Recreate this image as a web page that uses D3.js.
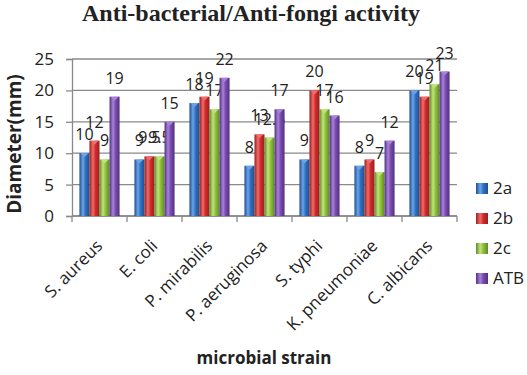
<!DOCTYPE html>
<html>
<head>
<meta charset="utf-8">
<script src="https://cdn.jsdelivr.net/npm/d3@7"></script>
<style>
  body { margin: 0; background: #fff; }
  svg text { font-family: "Open Sans", "Noto Sans", sans-serif; fill: #222; }
</style>
</head>
<body>
<div id="chart"></div>
<script>
// chart data
const strains = ["S. aureus", "E. coli", "P. mirabilis", "P. aeruginosa", "S. typhi", "K. pneumoniae", "C. albicans"];
const seriesNames = ["2a", "2b", "2c", "ATB"];
const val2a  = [10, 9, 18, 8, 9, 8, 20];
const val2b  = [12, 9.5, 19, 13, 20, 9, 19];
const val2c  = [9, 9.5, 17, 12.5, 17, 7, 21];
const valATB = [19, 15, 22, 17, 16, 12, 23];
const yTicks = [0, 5, 10, 15, 20, 25];

const seriesValues = [val2a, val2b, val2c, valATB];
const colors = {
    "2a":  {base: "#2f72c4", light: "#6ea4e6", dark: "#1d4f8f"},
    "2b":  {base: "#d32a2a", light: "#ef6d6d", dark: "#962020"},
    "2c":  {base: "#8fc23a", light: "#c1e47a", dark: "#61892a"},
    "ATB": {base: "#7a4cb0", light: "#a883d8", dark: "#523080"}
};

const width = 527, height = 375;
const margin = {top: 59, right: 70, bottom: 159, left: 72};
const plotRight = 457, plotBottom = 216;

const svg = d3.select("#chart").append("svg")
    .attr("width", width)
    .attr("height", height);

// gradients for the cylinder look
const defs = svg.append("defs");
seriesNames.forEach(s => {
    let g = defs.append("linearGradient")
        .attr("id", "grad-" + s)
        .attr("x1", "0%").attr("x2", "100%").attr("y1", "0%").attr("y2", "0%");
    g.append("stop").attr("offset", "0%").attr("stop-color", colors[s].dark);
    g.append("stop").attr("offset", "35%").attr("stop-color", colors[s].light);
    g.append("stop").attr("offset", "60%").attr("stop-color", colors[s].base);
    g.append("stop").attr("offset", "100%").attr("stop-color", colors[s].dark);
});

const x0 = d3.scaleBand()
    .domain(strains)
    .range([margin.left, plotRight])
    .paddingInner(0.27)
    .paddingOuter(0.135);

const x1 = d3.scaleBand()
    .domain(seriesNames)
    .range([0, x0.bandwidth()]);

const y = d3.scaleLinear()
    .domain([0, 25])
    .range([plotBottom, margin.top]);

// gridlines
svg.append("g")
    .selectAll("line")
    .data(yTicks)
    .enter()
    .append("line")
    .attr("x1", margin.left)
    .attr("x2", plotRight)
    .attr("y1", d => y(d))
    .attr("y2", d => y(d))
    .attr("stroke", "#8a8a8a")
    .attr("stroke-width", 1.3);

// y axis
const yAxis = svg.append("g")
    .attr("transform", `translate(${margin.left},0)`)
    .call(d3.axisLeft(y).tickValues(yTicks).tickSize(6).tickPadding(12));
yAxis.select(".domain").attr("stroke", "#8a8a8a").attr("stroke-width", 1.3);
yAxis.selectAll(".tick line").attr("stroke", "#8a8a8a").attr("stroke-width", 1.3);
yAxis.selectAll(".tick text")
    .style("font-size", "17px")
    .attr("fill", "#222");

// x axis with ticks at category boundaries
const boundaries = d3.range(strains.length + 1).map(i => margin.left + i * x0.step());
svg.append("line")
    .attr("x1", margin.left).attr("x2", plotRight)
    .attr("y1", plotBottom).attr("y2", plotBottom)
    .attr("stroke", "#8a8a8a").attr("stroke-width", 1.3);
svg.append("g")
    .selectAll("line")
    .data(boundaries)
    .enter()
    .append("line")
    .attr("x1", d => d).attr("x2", d => d)
    .attr("y1", plotBottom).attr("y2", plotBottom + 6)
    .attr("stroke", "#8a8a8a").attr("stroke-width", 1.3);

// x tick labels, rotated
svg.append("g")
    .selectAll("text")
    .data(strains)
    .enter()
    .append("text")
    .attr("transform", d => `translate(${x0(d) + x0.bandwidth() / 2 + 4},${247}) rotate(-45)`)
    .attr("text-anchor", "end")
    .style("font-size", "17px")
    .text(d => d);

// bars
const groups = svg.append("g")
    .selectAll("g")
    .data(strains)
    .enter()
    .append("g")
    .attr("transform", d => `translate(${x0(d)},0)`);

const bars = groups.selectAll("g.bar")
    .data((d, i) => seriesNames.map((s, j) => ({series: s, value: seriesValues[j][i]})))
    .enter()
    .append("g")
    .attr("class", "bar");

bars.append("rect")
    .attr("x", d => x1(d.series))
    .attr("y", d => y(d.value))
    .attr("width", x1.bandwidth())
    .attr("height", d => y(0) - y(d.value))
    .attr("fill", d => `url(#grad-${d.series})`);

// small bevel triangle on top
bars.append("path")
    .attr("d", d => {
        let xl = x1(d.series), w = x1.bandwidth(), yt = y(d.value);
        return `M${xl + 1},${yt} L${xl + w - 1},${yt} L${xl + w / 2},${yt + 4} Z`;
    })
    .attr("fill", d => colors[d.series].light);

// value labels
bars.append("text")
    .attr("x", d => x1(d.series) + x1.bandwidth() / 2)
    .attr("y", d => y(d.value) - 13)
    .attr("text-anchor", "middle")
    .style("font-size", "16px")
    .text(d => d.value);

// title
svg.append("text")
    .attr("x", 251)
    .attr("y", 21)
    .attr("text-anchor", "middle")
    .style("font-family", "'Liberation Serif', serif")
    .style("font-weight", "bold")
    .style("font-size", "24px")
    .text("Anti-bacterial/Anti-fongi activity");

// axis titles
svg.append("text")
    .attr("transform", "translate(21,144) rotate(-90)")
    .attr("text-anchor", "middle")
    .style("font-weight", "bold")
    .style("font-size", "19px")
    .text("Diameter(mm)");

svg.append("text")
    .attr("x", 264)
    .attr("y", 364)
    .attr("text-anchor", "middle")
    .style("font-weight", "bold")
    .style("font-size", "17px")
    .text("microbial strain");

// legend
const legend = svg.append("g")
    .selectAll("g")
    .data(seriesNames)
    .enter()
    .append("g")
    .attr("transform", (d, i) => `translate(476,${183 + i * 30})`);

legend.append("rect")
    .attr("width", 12)
    .attr("height", 11)
    .attr("fill", d => `url(#grad-${d})`);

legend.append("text")
    .attr("x", 17)
    .attr("y", 11)
    .style("font-size", "17px")
    .text(d => d);
</script>
</body>
</html>
